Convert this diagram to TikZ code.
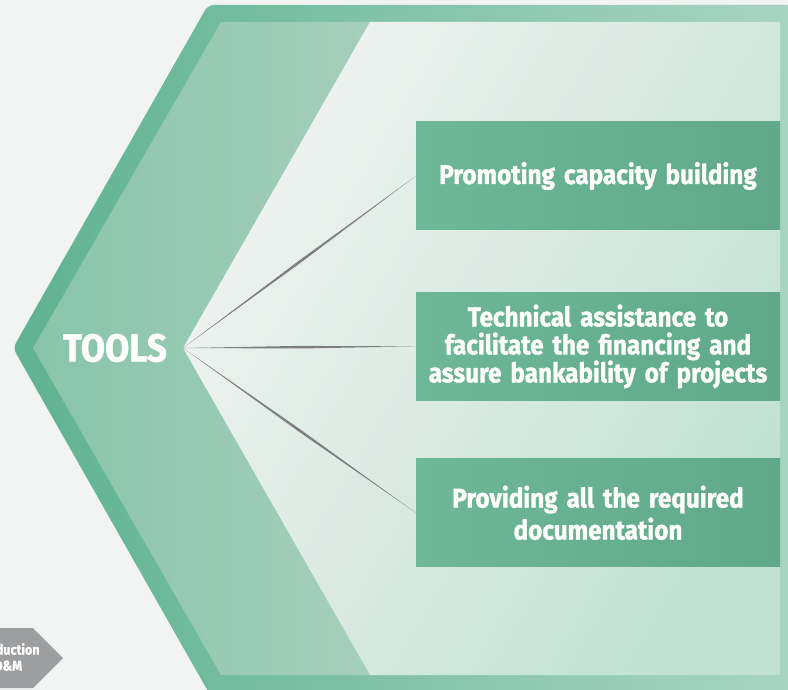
\documentclass[tikz,border=0pt]{standalone}
\usepackage{fontspec}
\setmainfont{Fira Sans}[FakeStretch=0.9, WordSpace=0.6, BoldFeatures={FakeBold=1.2}]
\usetikzlibrary{positioning, calc}

\definecolor{paper}{HTML}{F2F4F3}
\definecolor{framel}{HTML}{5FB292}
\definecolor{framer}{HTML}{A9D5C3}
\definecolor{bandl}{HTML}{88C4AB}
\definecolor{bandr}{HTML}{A5CFBC}
\definecolor{panell}{HTML}{F0F3F1}
\definecolor{panelr}{HTML}{C2E1D4}
\definecolor{tilel}{HTML}{6EB798}
\definecolor{tiler}{HTML}{5FA98A}
\definecolor{spokegrey}{HTML}{7E7E7E}
\definecolor{tabgrey}{HTML}{9D9EA0}

\tikzset{
  tile/.style={minimum width=364pt, minimum height=108pt, inner sep=0pt,
    text width=362pt, align=center, text=white,
    left color=tilel, right color=tiler,
    font=\fontsize{27}{28}\selectfont\bfseries},
}

% a spoke, thin at both ends and thicker in the middle
\newcommand\spokeline[2]{%
  \fill[spokegrey] (#1) -- ($(#1)!0.5!(#2)!1.3pt!90:(#2)$) -- (#2)
        -- ($(#1)!0.5!(#2)!1.3pt!-90:(#2)$) -- cycle;}

\begin{document}
\begin{tikzpicture}[x=1pt,y=-1pt]
        \useasboundingbox (0,0) rectangle (788,690);
        \clip (0,0) rectangle (788,690);

        % draw the paper
        \fill[paper] (0,0) rectangle (788,690);

        % draw the outer frame and the light band
        \shade[left color=framel, right color=framer, rounded corners=6pt]
              (13,348) -- (208,5) -- (800,5) -- (800,700) -- (213,700) -- cycle;
        \shade[left color=bandl, right color=bandr]
              (33,348) -- (221,22) -- (370,22) -- (183,348) -- (370,675) -- (221,675) -- cycle;

        % draw the inner panel
        \shade[left color=panell, right color=panelr, shading angle=60]
              (183,348) -- (370,22) -- (780,22) -- (780,675) -- (370,675) -- cycle;

        % the tab in the corner
        \fill[tabgrey] (-10,628) -- (33,628) -- (63,658) -- (33,688) -- (-10,688) -- cycle;
        \node[text=white, align=center, font=\fontsize{14}{16}\selectfont\bfseries]
              (prodtab) at (8,657) {Production\\O\&M};

        % the three tools
        \node[tile] (capacity) at (598,176) {Promoting capacity building};
        \node[tile, below=62pt of capacity] (finance)
              {Technical assistance to\\facilitate the financing and\\assure bankability of projects};
        \node[tile, below=58pt of finance, font=\fontsize{27}{32}\selectfont\bfseries] (docs)
              {Providing all the required\\documentation};

        % the label and its spokes
        \node[text=white, font=\fontsize{39}{40}\selectfont\bfseries] (tools) at (115,348) {TOOLS};
        \coordinate (hub) at (183,348);
        \foreach \t in {capacity, finance, docs}
              \spokeline{hub}{\t.west};
\end{tikzpicture}
\end{document}
